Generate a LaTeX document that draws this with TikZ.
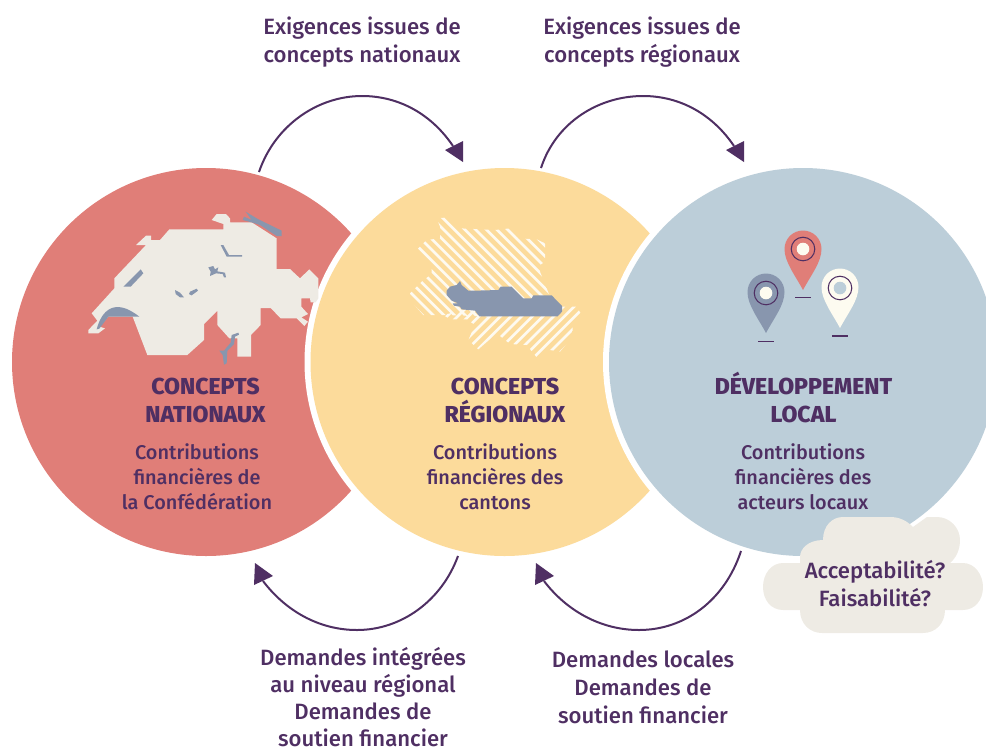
\documentclass[tikz,border=0pt]{standalone}
\usepackage{fontspec}
\setmainfont{Fira Sans}
\newfontfamily\fmed{Fira Sans Medium}
\newfontfamily\fhv{Fira Sans ExtraBold}
\usetikzlibrary{arrows.meta}
\definecolor{redc}{HTML}{E07E78}
\definecolor{yelc}{HTML}{FCDB9B}
\definecolor{bluec}{HTML}{BCCED9}
\definecolor{pur}{HTML}{4F2F63}
\definecolor{cream}{HTML}{EEEBE4}
\definecolor{lake}{HTML}{8896AE}
\definecolor{ivory}{HTML}{FDFBF0}
\tikzset{
 x=0.75pt,y=-0.75pt,
 lbl/.style={text=pur,font=\fontsize{16.6}{21}\selectfont\fmed,align=center,inner sep=0},
 body/.style={text=pur,font=\fontsize{14.9}{18.6}\selectfont\fmed,align=center,inner sep=0},
 head/.style={text=pur,font=\fontsize{17.3}{21}\selectfont\fhv,align=center,inner sep=0},
 cycle/.style={draw=pur,line width=1.5pt},
 tip/.style={fill=pur},
 hatch/.style={white!85!yelc,line width=2pt}
}
\newcommand{\pin}[3]{%
 \fill[#3] (#1-18.5,#2-41) arc[start angle=180,delta angle=180,radius=18.5] .. controls (#1+18.5,#2-28) and (#1+8,#2-15) .. (#1,#2) .. controls (#1-8,#2-15) and (#1-18.5,#2-28) .. cycle;
}
\begin{document}
\begin{tikzpicture}
\useasboundingbox (0,0) rectangle (986,751);
\begin{scope}
\clip (0,0) rectangle (986,751);
\node[circle,fill=redc,minimum size=388*0.75pt,inner sep=0] (cn) at (206,362) {};
\node[circle,fill=white,minimum size=400*0.75pt,inner sep=0] at (504.5,362) {};
\node[circle,fill=yelc,minimum size=388*0.75pt,inner sep=0] (cr) at (504.5,362) {};
\node[circle,fill=white,minimum size=400*0.75pt,inner sep=0] at (803,362) {};
\node[circle,fill=bluec,minimum size=388*0.75pt,inner sep=0] (dl) at (803,362) {};
\end{scope}
% Swiss map
\begin{scope}[shift={(70,190)},x=0.25pt,y=-0.25pt]
\fill[cream] (425,90)--(440,72)--(468,72)--(480,85)--(480,97)--(545,97)--(620,145)--(620,237)--(660,237)--(690,265)--(718,238)--(745,265)--(745,325)--(737,337)--(722,337)--(720,325)--(694,325)--(694,350)--(714,372)--(694,382)--(714,395)--(703,408)--(680,385)--(632,385)--(602,354)--(572,354)--(572,405)--(543,435)--(543,500)--(502,500)--(502,445)--(478,445)--(442,405)--(442,362)--(402,402)--(402,450)--(352,495)--(232,495)--(188,380)--(115,380)--(88,410)--(105,415)--(85,430)--(55,430)--(55,420)--(82,392)--(65,370)--(133,295)--(133,265)--(228,165)--(198,165)--(228,137)--(243,137)--(243,150)--(270,150)--(298,118)--(460,118)--(460,102)--cycle;
\fill[lake] (80,418) .. controls (95,360) and (135,322) .. (208,380) -- (188,380) -- (115,380) -- (88,416) -- cycle;
\fill[lake] (527,65)--(560,85)--(590,100)--(635,122)--(635,138)--(620,138)--(570,105)--(548,98)--(518,90)--(522,80)--(545,90)--cycle;
\fill[lake] (212,238)--(220,250)--(182,290)--(160,290)--cycle;
\fill[lake] (452,165)--(460,165)--(477,195)--(516,195)--(516,200)--(470,200)--cycle;
\fill[lake] (315,300)--(330,308)--(342,322)--(330,322)--(317,312)--cycle;
\fill[lake] (360,305)--(380,296)--(384,302)--(365,316)--(357,312)--cycle;
\fill[lake] (415,232)--(430,228)--(435,238)--(445,232)--(442,244)--(465,248)--(468,262)--(462,262)--(458,252)--(438,250)--(420,258)--(422,245)--cycle;
\fill[lake] (485,435)--(505,428)--(507,434)--(495,440)--(492,462)--(472,482)--(470,520)--(462,524)--(458,495)--(448,482)--(462,482)--(482,458)--cycle;
\end{scope}
% Regional map
\begin{scope}[shift={(390,200)},x=0.25pt,y=-0.25pt]
\begin{scope}
\clip (140,55)--(175,52)--(210,85)--(315,90)--(360,85)--(385,115)--(440,118)--(465,130)--(465,185)--(450,195)--(450,215)--(480,290)--(300,350)--(170,345)--(100,345)--(60,300)--(60,280)--(95,245)--(125,222)--(125,195)--(82,148)--(110,120)--(150,115)--(150,80)--cycle;
\foreach \i in {-20,...,30} \draw[hatch] (\i*32-120,0)--(\i*32+380,500);
\end{scope}
\begin{scope}
\clip (160,345)--(260,320)--(560,320)--(572,340)--(548,375)--(548,410)--(510,455)--(480,450)--(440,472)--(410,435)--(360,432)--(320,400)--(265,448)--(235,420)--(255,375)--(230,358)--(180,358)--cycle;
\foreach \i in {-20,...,40} \draw[hatch] (\i*32+100,100)--(\i*32-300,500);
\end{scope}
\fill[lake] (170,272)--(180,260)--(200,255)--(210,243)--(215,255)--(235,272)--(255,272)--(325,270)--(332,260)--(365,260)--(400,295)--(425,295)--(430,286)--(485,286)--(516,318)--(516,335)--(503,349)--(268,349)--(255,332)--(215,328)--(210,320)--(192,317)--(188,310)--(205,310)--(185,302)--(170,285)--cycle;
\end{scope}
% Pins
\pin{803}{290}{redc}
\pin{766}{333}{lake}
\pin{840}{328}{ivory}
\foreach \x/\y/\c in {803/249/ivory,766/293/ivory,840/288/bluec}{
 \fill[\c] (\x,\y) circle[radius=6.3];
 \draw[pur,line width=0.8pt] (\x,\y) circle[radius=11.8];
}
\foreach \x/\y in {803/297.7,766/341.7,840/336}
 \draw[pur,line width=0.9pt] (\x-7.7,\y)--(\x+7.7,\y);
% Cloud
\fill[cream] (823,540) .. controls (823,526) and (832,517) .. (843,517) -- (890,517) .. controls (900,517) and (907,521) .. (913,527) -- (927,517) -- (937,517) .. controls (950,517) and (960,528) .. (960,540) .. controls (960,550) and (956,558) .. (950,563) -- (963,563) .. controls (975,563) and (983,575) .. (983,587) .. controls (983,600) and (975,610) .. (963,610) -- (945,610) .. controls (945,623) and (936,633) .. (923,633) -- (822,633) .. controls (810,633) and (800,624) .. (800,610) -- (783,610) .. controls (771,610) and (763,600) .. (763,587) .. controls (763,574) and (771,563) .. (783,563) -- (800,563) -- (800,557) .. controls (800,549) and (808,540) .. (823,540) -- cycle;
% Text
\node[lbl] (t1) at (362,42) {Exigences issues de\\concepts nationaux};
\node[lbl] (t2) at (642,42) {Exigences issues de\\concepts régionaux};
\node[lbl,font=\fontsize{16.6}{20.3}\selectfont\fmed] (t3) at (363,697) {Demandes intégrées\\au niveau régional\\Demandes de\\soutien financier};
\node[lbl] (t4) at (643,687) {Demandes locales\\Demandes de\\soutien financier};
\node[head] at (205.5,400) {CONCEPTS\\NATIONAUX};
\node[head] at (505,400) {CONCEPTS\\RÉGIONAUX};
\node[head] at (803.5,397.5) {DÉVELOPPEMENT\\LOCAL};
\node[body] at (197,477) {Contributions\\financières de\\la Confédération};
\node[body] at (495,477) {Contributions\\financières des\\cantons};
\node[body] at (803,477) {Contributions\\financières des\\acteurs locaux};
\node[lbl] (t5) at (875,584) {Acceptabilité?\\Faisabilité?};
% Arrows
\coordinate (a1s) at (259,172); \coordinate (a1e) at (453,146);
\coordinate (a2s) at (541,168); \coordinate (a2e) at (734,146);
\coordinate (a3s) at (458,556); \coordinate (a3e) at (263,581);
\coordinate (a4s) at (741,551); \coordinate (a4e) at (544,581);
\draw[cycle] (a1s) .. controls (275,125) and (318,96) .. (362,96) .. controls (400,96) and (432,115) .. (a1e);
\draw[cycle] (a2s) .. controls (556,122) and (599,96) .. (643,96) .. controls (681,96) and (713,115) .. (a2e);
\draw[cycle] (a3s) .. controls (442,600) and (402,630) .. (357,630) .. controls (318,630) and (285,610) .. (a3e);
\draw[cycle] (a4s) .. controls (725,600) and (685,630) .. (639,630) .. controls (600,630) and (566,610) .. (a4e);
\fill[tip] (445,150)--(463,141)--(463,162)--cycle;
\fill[tip] (726,150)--(744,141)--(744,162)--cycle;
\fill[tip] (255,563)--(273,576)--(254,585)--cycle;
\fill[tip] (536,563)--(554,576)--(535,585)--cycle;
\end{tikzpicture}
\end{document}
